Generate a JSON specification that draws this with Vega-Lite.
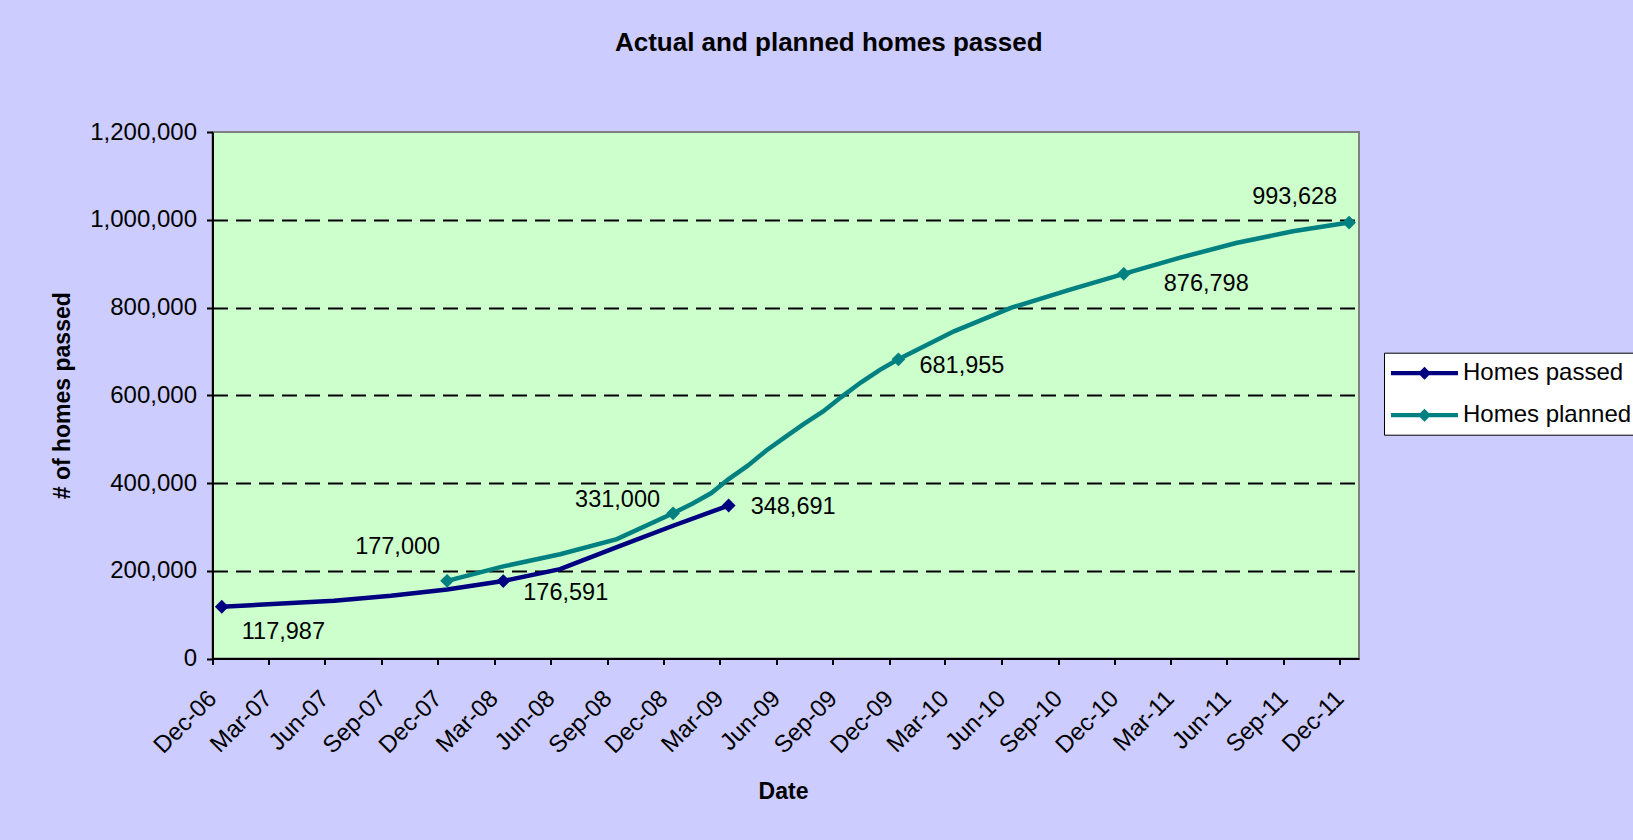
{
  "$schema": "https://vega.github.io/schema/vega-lite/v6.json",
  "width": 1146.5,
  "height": 526.5,
  "autosize": "none",
  "padding": {"left": 212.5, "top": 132, "right": 274, "bottom": 181.5},
  "background": "#CCCCFF",
  "title": {
    "text": "Actual and planned homes passed",
    "font": "Liberation Sans",
    "fontSize": 26,
    "fontWeight": "bold",
    "color": "black",
    "anchor": "middle",
    "dx": 43,
    "offset": 64
  },
  "config": {
    "view": {"fill": "#CCFFCC", "stroke": "#808080", "strokeWidth": 2},
    "font": "Liberation Sans",
    "axis": {
      "labelFont": "Liberation Sans",
      "labelColor": "black",
      "titleFont": "Liberation Sans",
      "titleColor": "black",
      "domainColor": "black",
      "domainWidth": 2,
      "tickColor": "black",
      "tickWidth": 2,
      "tickSize": 6
    }
  },
  "datasets": {
    "series": [
      {"date": "2006/12/16", "series": "Homes passed", "value": 117987},
      {"date": "2007/03/16", "series": "Homes passed", "value": 124700},
      {"date": "2007/06/16", "series": "Homes passed", "value": 131600},
      {"date": "2007/09/16", "series": "Homes passed", "value": 143000},
      {"date": "2007/12/16", "series": "Homes passed", "value": 157500},
      {"date": "2008/03/16", "series": "Homes passed", "value": 176591},
      {"date": "2008/06/16", "series": "Homes passed", "value": 203800},
      {"date": "2008/09/16", "series": "Homes passed", "value": 254000},
      {"date": "2008/12/16", "series": "Homes passed", "value": 302600},
      {"date": "2009/03/16", "series": "Homes passed", "value": 348691},
      {"date": "2007/12/16", "series": "Homes planned", "value": 177000},
      {"date": "2008/03/16", "series": "Homes planned", "value": 210000},
      {"date": "2008/06/16", "series": "Homes planned", "value": 237500},
      {"date": "2008/09/16", "series": "Homes planned", "value": 272000},
      {"date": "2008/12/16", "series": "Homes planned", "value": 331000},
      {"date": "2009/01/16", "series": "Homes planned", "value": 352800},
      {"date": "2009/02/16", "series": "Homes planned", "value": 377000},
      {"date": "2009/03/16", "series": "Homes planned", "value": 409000},
      {"date": "2009/04/16", "series": "Homes planned", "value": 439500},
      {"date": "2009/05/16", "series": "Homes planned", "value": 474000},
      {"date": "2009/06/16", "series": "Homes planned", "value": 505000},
      {"date": "2009/07/16", "series": "Homes planned", "value": 534500},
      {"date": "2009/08/16", "series": "Homes planned", "value": 563000},
      {"date": "2009/09/16", "series": "Homes planned", "value": 597500},
      {"date": "2009/10/16", "series": "Homes planned", "value": 629000},
      {"date": "2009/11/16", "series": "Homes planned", "value": 658000},
      {"date": "2009/12/16", "series": "Homes planned", "value": 681955},
      {"date": "2010/03/16", "series": "Homes planned", "value": 745700},
      {"date": "2010/06/16", "series": "Homes planned", "value": 799000},
      {"date": "2010/09/16", "series": "Homes planned", "value": 839000},
      {"date": "2010/12/16", "series": "Homes planned", "value": 876798},
      {"date": "2011/03/16", "series": "Homes planned", "value": 913000},
      {"date": "2011/06/16", "series": "Homes planned", "value": 947000},
      {"date": "2011/09/16", "series": "Homes planned", "value": 973800},
      {"date": "2011/12/16", "series": "Homes planned", "value": 993628}
    ],
    "marked": [
      {"date": "2006/12/16", "series": "Homes passed", "value": 117987},
      {"date": "2008/03/16", "series": "Homes passed", "value": 176591},
      {"date": "2009/03/16", "series": "Homes passed", "value": 348691},
      {"date": "2007/12/16", "series": "Homes planned", "value": 177000},
      {"date": "2008/12/16", "series": "Homes planned", "value": 331000},
      {"date": "2009/12/16", "series": "Homes planned", "value": 681955},
      {"date": "2010/12/16", "series": "Homes planned", "value": 876798},
      {"date": "2011/12/16", "series": "Homes planned", "value": 993628}
    ]
  },
  "encoding": {
    "x": {
      "field": "date",
      "type": "temporal",
      "scale": {
        "domain": [{"year": 2006, "month": 12, "date": 1}, {"year": 2012, "month": 1, "date": 1}],
        "nice": false
      },
      "axis": {
        "values": [
          {"year": 2006, "month": 12, "date": 1},
          {"year": 2007, "month": 3, "date": 1},
          {"year": 2007, "month": 6, "date": 1},
          {"year": 2007, "month": 9, "date": 1},
          {"year": 2007, "month": 12, "date": 1},
          {"year": 2008, "month": 3, "date": 1},
          {"year": 2008, "month": 6, "date": 1},
          {"year": 2008, "month": 9, "date": 1},
          {"year": 2008, "month": 12, "date": 1},
          {"year": 2009, "month": 3, "date": 1},
          {"year": 2009, "month": 6, "date": 1},
          {"year": 2009, "month": 9, "date": 1},
          {"year": 2009, "month": 12, "date": 1},
          {"year": 2010, "month": 3, "date": 1},
          {"year": 2010, "month": 6, "date": 1},
          {"year": 2010, "month": 9, "date": 1},
          {"year": 2010, "month": 12, "date": 1},
          {"year": 2011, "month": 3, "date": 1},
          {"year": 2011, "month": 6, "date": 1},
          {"year": 2011, "month": 9, "date": 1},
          {"year": 2011, "month": 12, "date": 1}
        ],
        "format": "%b-%y",
        "labelAngle": -45,
        "labelAlign": "right",
        "labelBaseline": "middle",
        "labelPadding": 30,
        "labelFontSize": 24,
        "labelOverlap": false,
        "labelFlush": false,
        "labelBound": false,
        "grid": false,
        "title": "Date",
        "titleFontSize": 23,
        "titleFontWeight": "bold",
        "titleX": 570.5,
        "titleY": 133,
        "titleAlign": "center",
        "titleBaseline": "middle"
      }
    },
    "y": {
      "field": "value",
      "type": "quantitative",
      "scale": {"domain": [0, 1200000], "nice": false},
      "axis": {
        "values": [0, 200000, 400000, 600000, 800000, 1000000, 1200000],
        "format": ",d",
        "labelFontSize": 24,
        "labelPadding": 10,
        "grid": true,
        "gridColor": "black",
        "gridWidth": 2,
        "gridDash": [15, 8],
        "gridOpacity": {"condition": {"test": "datum.value == 0 || datum.value == 1200000", "value": 0}, "value": 1},
        "title": "# of homes passed",
        "titleFontSize": 23,
        "titleFontWeight": "bold",
        "titleAngle": -90,
        "titleX": -150.5,
        "titleY": 263.25,
        "titleAlign": "center",
        "titleBaseline": "middle"
      }
    }
  },
  "layer": [
    {
      "data": {"name": "series"},
      "mark": {"type": "line", "strokeWidth": 4.5},
      "encoding": {
        "color": {
          "field": "series",
          "type": "nominal",
          "scale": {"domain": ["Homes passed", "Homes planned"], "range": ["#000080", "#008080"]},
          "legend": {
            "orient": "none",
            "legendX": 1171.5,
            "legendY": 220.7,
            "title": null,
            "fillColor": "white",
            "strokeColor": "black",
            "padding": 7,
            "symbolType": "M-1,-0.16H3.96V0.16H-1Z M1.48,-0.48L1.96,0L1.48,0.48L1,0Z",
            "symbolSize": 729,
            "symbolStrokeWidth": 0,
            "labelOffset": 45,
            "labelFont": "Liberation Sans",
            "labelFontSize": 24,
            "labelColor": "black",
            "labelLimit": 400,
            "rowPadding": 16,
            "encode": {
              "symbols": {
                "update": {
                  "fill": {"scale": "color", "field": "value"},
                  "opacity": {"value": 1}
                }
              }
            }
          }
        }
      }
    },
    {
      "data": {"name": "marked"},
      "mark": {"type": "point", "shape": "diamond", "filled": true, "size": 190, "opacity": 1},
      "encoding": {
        "color": {"field": "series", "type": "nominal", "legend": null}
      }
    },
    {
      "data": {"name": "marked"},
      "transform": [{"filter": "datum.value == 117987"}],
      "mark": {"type": "text", "align": "left", "baseline": "middle", "dx": 20, "dy": 25, "fontSize": 23.5, "color": "black"},
      "encoding": {"text": {"field": "value", "type": "quantitative", "format": ",d"}}
    },
    {
      "data": {"name": "marked"},
      "transform": [{"filter": "datum.value == 176591"}],
      "mark": {"type": "text", "align": "left", "baseline": "middle", "dx": 20, "dy": 12, "fontSize": 23.5, "color": "black"},
      "encoding": {"text": {"field": "value", "type": "quantitative", "format": ",d"}}
    },
    {
      "data": {"name": "marked"},
      "transform": [{"filter": "datum.value == 348691"}],
      "mark": {"type": "text", "align": "left", "baseline": "middle", "dx": 22, "dy": 1, "fontSize": 23.5, "color": "black"},
      "encoding": {"text": {"field": "value", "type": "quantitative", "format": ",d"}}
    },
    {
      "data": {"name": "marked"},
      "transform": [{"filter": "datum.value == 681955"}],
      "mark": {"type": "text", "align": "left", "baseline": "middle", "dx": 21, "dy": 7, "fontSize": 23.5, "color": "black"},
      "encoding": {"text": {"field": "value", "type": "quantitative", "format": ",d"}}
    },
    {
      "data": {"name": "marked"},
      "transform": [{"filter": "datum.value == 876798"}],
      "mark": {"type": "text", "align": "left", "baseline": "middle", "dx": 40, "dy": 10, "fontSize": 23.5, "color": "black"},
      "encoding": {"text": {"field": "value", "type": "quantitative", "format": ",d"}}
    },
    {
      "data": {"name": "marked"},
      "transform": [{"filter": "datum.value == 177000"}],
      "mark": {"type": "text", "align": "right", "baseline": "middle", "dx": -7, "dy": -34, "fontSize": 23.5, "color": "black"},
      "encoding": {"text": {"field": "value", "type": "quantitative", "format": ",d"}}
    },
    {
      "data": {"name": "marked"},
      "transform": [{"filter": "datum.value == 331000"}],
      "mark": {"type": "text", "align": "right", "baseline": "middle", "dx": -13, "dy": -13, "fontSize": 23.5, "color": "black"},
      "encoding": {"text": {"field": "value", "type": "quantitative", "format": ",d"}}
    },
    {
      "data": {"name": "marked"},
      "transform": [{"filter": "datum.value == 993628"}],
      "mark": {"type": "text", "align": "right", "baseline": "middle", "dx": -12, "dy": -26, "fontSize": 23.5, "color": "black"},
      "encoding": {"text": {"field": "value", "type": "quantitative", "format": ",d"}}
    }
  ]
}
